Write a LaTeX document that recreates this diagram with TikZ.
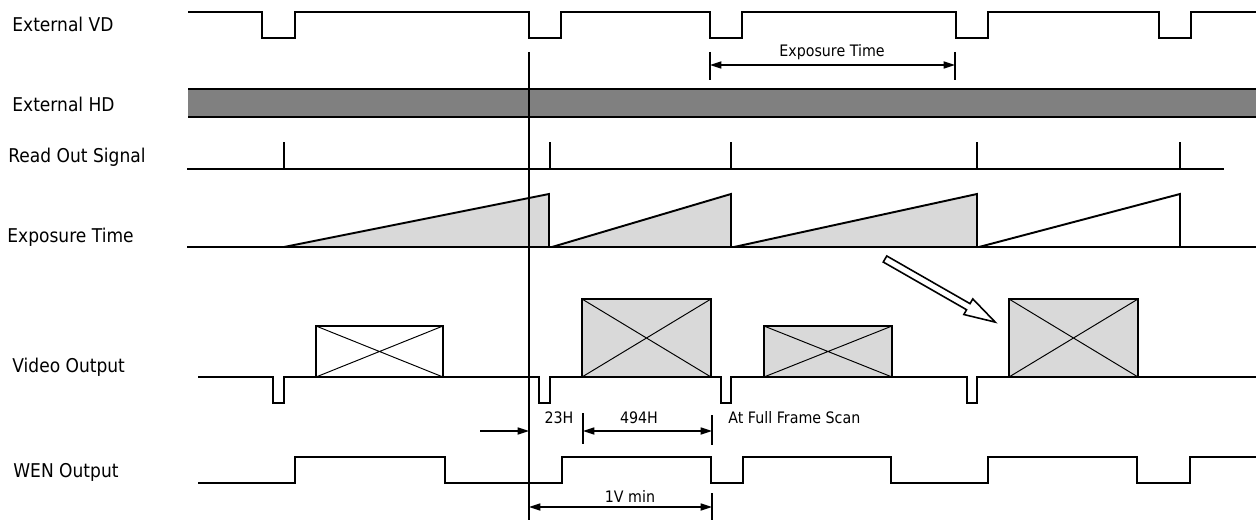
\documentclass[tikz,border=0pt]{standalone}
\usepackage{fontspec}
\setmainfont{DejaVu Sans}[FakeStretch=0.9]
\usetikzlibrary{arrows.meta}

\begin{document}
\begin{tikzpicture}[x=0.02cm, y=-0.02cm,
	sig/.style={line width=1.1pt, line join=miter},
	lbl/.style={anchor=base west, inner sep=0pt, font=\fontsize{10.8}{13}\selectfont},
	note/.style={anchor=base, inner sep=0pt, font=\fontsize{9}{11}\selectfont},
	vbox/.style={draw, line width=1.1pt, fill=#1, inner sep=0pt, outer sep=0pt, anchor=south west},
	ramp/.style={line width=1.1pt, line join=miter, fill=#1},
	dimtick/.style={line width=0.9pt},
	dimline/.style={line width=0.9pt, {Triangle[length=6.5pt,width=4pt]}-{Triangle[length=6.5pt,width=4pt]}},
	dimin/.style={line width=0.9pt, -{Triangle[length=6.5pt,width=4pt]}}]
	\useasboundingbox (0,0) rectangle (1256,523);

	\node[lbl] (vd) at (12,32) {External VD};
	\node[lbl] (hd) at (12,112) {External HD};
	\node[lbl] (ro) at (8,163) {Read Out Signal};
	\node[lbl] (et) at (7,243) {Exposure Time};
	\node[lbl] (vo) at (12,372) {Video Output};
	\node[lbl] (wen) at (13,477) {WEN Output};

	\draw[sig] (188,12) -| (262,38) -| (295,12) -| (529,38) -| (561,12) -| (710,38) -| (742,12)
		-| (956,38) -| (988,12) -| (1159,38) -| (1191,12) -- (1256,12);

	\fill[gray] (188,89) rectangle (1256,117);
	\draw[line width=1.4pt] (188,89) -- (1256,89) (188,117) -- (1256,117);

	\draw[sig] (187,169) -- (1224,169);
	\foreach \x in {284,550,731,977,1180}
		\draw[sig] (\x,169) -- (\x,142);

	\draw[ramp=black!15] (284,247) -- (549,194) -- (549,247) -- cycle;
	\draw[ramp=black!15] (552,247) -- (731,194) -- (731,247) -- cycle;
	\draw[ramp=black!15] (734,247) -- (977,194) -- (977,247) -- cycle;
	\draw[ramp=white] (979,247) -- (1180,194) -- (1180,247) -- cycle;
	\draw[sig] (187,247) -- (1256,247);

	\begin{scope}[shift={(885,259)}, rotate=-29.8]
		\draw[line width=0.9pt, fill=white] (0,-3.5) -- (96,-3.5) -- (96,-9) -- (127,0) -- (96,9) -- (96,3.5) -- (0,3.5) -- cycle;
	\end{scope}

	\node[vbox=white, minimum width=2.54cm, minimum height=1.02cm] (f1) at (316,377) {};
	\node[vbox=black!15, minimum width=2.58cm, minimum height=1.56cm] (f2) at (582,377) {};
	\node[vbox=black!15, minimum width=2.56cm, minimum height=1.02cm] (f3) at (764,377) {};
	\node[vbox=black!15, minimum width=2.58cm, minimum height=1.56cm] (f4) at (1009,377) {};
	\foreach \f in {f1,f2,f3,f4}
		\draw[line width=0.55pt] (\f.north west) -- (\f.south east) (\f.north east) -- (\f.south west);

	\draw[sig] (198,377) -| (273,403) -| (284,377) -| (539,403) -| (550,377) -| (721,403) -| (731,377)
		-| (967,403) -| (977,377) -- (1256,377);

	\draw[sig] (198,483) -| (295,457) -| (445,483) -| (562,457) -| (711,483) -| (743,457) -| (891,483)
		-| (988,457) -| (1137,483) -| (1190,457) -- (1256,457);

	\coordinate (e1) at (710,65);
	\coordinate (e2) at (955,65);
	\draw[dimtick] (710,52) -- (710,80) (955,52) -- (955,80);
	\draw[dimline] (e1) -- (e2);
	\node[note] (etl) at (832,57) {Exposure Time};

	\coordinate (h0) at (480,431);
	\coordinate (h1) at (529,431);
	\coordinate (h2) at (583,431);
	\coordinate (h3) at (712,431);
	\draw[dimtick] (583,413) -- (583,444) (712,415) -- (712,445);
	\draw[dimin] (h0) -- (h1);
	\draw[dimline] (h2) -- (h3);
	\node[note] (l23) at (559,423) {23H};
	\node[note] (l494) at (639,423) {494H};
	\node[note, anchor=base west] (full) at (728,423) {At Full Frame Scan};

	\coordinate (v0) at (529,507);
	\coordinate (v1) at (712,507);
	\draw[dimtick] (712,493) -- (712,520);
	\draw[dimline] (v0) -- (v1);
	\node[note] (l1v) at (630,502) {1V min};

	\coordinate (t0) at (529,52);
	\coordinate (t1) at (529,520);
	\draw[sig] (t0) -- (t1);
\end{tikzpicture}
\end{document}
